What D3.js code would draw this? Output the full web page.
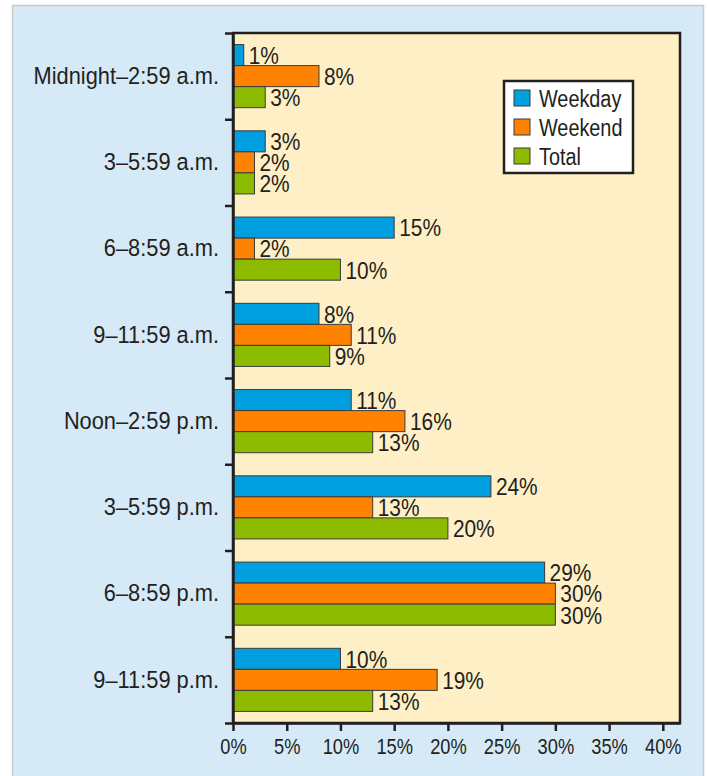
<!DOCTYPE html>
<html>
<head>
<meta charset="utf-8">
<script src="https://cdn.jsdelivr.net/npm/d3@7"></script>
<style>
  body { margin: 0; background: #fff; }
  text { font-family: "Liberation Sans", Arial, sans-serif; fill: #231f20; }
</style>
</head>
<body>
<div id="myChart"></div>
<script>
// data
const categories = ["Midnight\u20132:59 a.m.", "3\u20135:59 a.m.", "6\u20138:59 a.m.", "9\u201311:59 a.m.",
    "Noon\u20132:59 p.m.", "3\u20135:59 p.m.", "6\u20138:59 p.m.", "9\u201311:59 p.m."];
const seriesNames = ["Weekday", "Weekend", "Total"];
const weekday = [1, 3, 15, 8, 11, 24, 29, 10];
const weekend = [8, 2, 2, 11, 16, 13, 30, 19];
const total = [3, 2, 10, 9, 13, 20, 30, 13];
const xTicks = [0, 5, 10, 15, 20, 25, 30, 35, 40];

const colors = { "Weekday": "#00a0e0", "Weekend": "#ff8300", "Total": "#8cbb00" };
const values = { "Weekday": weekday, "Weekend": weekend, "Total": total };
const ink = "#231f20";

let W = 707, H = 776;
let plot = { left: 233, top: 33, right: 680, bottom: 723 };

// narrow the glyphs while keeping the anchor point where it was (fake condensed face)
function squeeze(sel, sx) {
    sel.each(function () {
        let t = d3.select(this);
        let x0 = +t.attr("x") || 0;
        t.attr("x", x0 / sx).attr("transform", "scale(" + sx + ",1)");
    });
}

let svg = d3.select('#myChart')
    .append('svg')
    .attr('width', W)
    .attr('height', H);

// outer light blue panel
svg.append("rect")
    .attr("x", 12.5).attr("y", 5.5)
    .attr("width", 691).attr("height", 790)
    .attr("fill", "#d6e9f7")
    .attr("stroke", "#c9c9c9")
    .attr("stroke-width", 1.5);

var x = d3.scaleLinear()
    .domain([0, 41.6])
    .range([plot.left, plot.right]);

var y = d3.scaleBand()
    .domain(categories)
    .range([plot.top, plot.bottom]);

var ySub = d3.scaleBand()
    .domain(seriesNames)
    .range([0, y.bandwidth()])
    .paddingOuter(0.55);

// plot background + frame
svg.append("rect")
    .attr("x", plot.left).attr("y", plot.top)
    .attr("width", plot.right - plot.left)
    .attr("height", plot.bottom - plot.top)
    .attr("fill", "#feefc6")
    .attr("stroke", ink)
    .attr("stroke-width", 2.5);

// bars
let rows = svg.append("g")
    .selectAll("g")
    .data(categories)
    .enter()
    .append("g")
    .attr("transform", function (d) { return "translate(0," + y(d) + ")"; });

function rowData(d, i) {
    return seriesNames.map(function (s) { return { s: s, v: values[s][i] }; });
}

rows.selectAll("rect")
    .data(rowData)
    .enter()
    .append("rect")
    .attr("x", x(0))
    .attr("y", function (d) { return ySub(d.s); })
    .attr("width", function (d) { return x(d.v) - x(0); })
    .attr("height", ySub.bandwidth())
    .attr("fill", function (d) { return colors[d.s]; })
    .attr("stroke", "#3b3b3b")
    .attr("stroke-width", 1);

rows.selectAll("text")
    .data(rowData)
    .enter()
    .append("text")
    .attr("x", function (d) { return x(d.v) + 5; })
    .attr("y", function (d) { return ySub(d.s) + ySub.bandwidth() / 2; })
    .attr("dy", "0.37em")
    .style("font-size", "24px")
    .text(function (d) { return d.v + "%"; })
    .call(squeeze, 0.87);

// left axis: ticks on the category boundaries
var yEdges = d3.scaleLinear().domain([0, categories.length]).range([plot.top, plot.bottom]);
svg.append("g")
    .attr("transform", "translate(" + plot.left + ",0)")
    .call(d3.axisLeft(yEdges).tickValues(d3.range(categories.length + 1)).tickFormat("").tickSize(8).tickSizeOuter(0))
    .call(function (g) {
        g.selectAll("line").attr("stroke", ink).attr("stroke-width", 2.5);
        g.select(".domain").attr("stroke", ink).attr("stroke-width", 2.5);
    });

// category labels
svg.append("g")
    .attr("transform", "translate(" + plot.left + ",0)")
    .call(d3.axisLeft(y).tickSize(0).tickPadding(14))
    .call(function (g) {
        g.select(".domain").remove();
        g.selectAll("text").style("font-size", "24.5px").attr("fill", ink)
            .style("font-family", null).call(squeeze, 0.89);
    });

// bottom axis
svg.append("g")
    .attr("transform", "translate(0," + plot.bottom + ")")
    .call(d3.axisBottom(x).tickValues(xTicks).tickSize(8).tickSizeOuter(0).tickPadding(8)
        .tickFormat(function (d) { return d + "%"; }))
    .call(function (g) {
        g.select(".domain").attr("stroke", ink).attr("stroke-width", 2.5);
        g.selectAll("line").attr("stroke", ink).attr("stroke-width", 2.5);
        g.selectAll("text").style("font-size", "21.5px").attr("fill", ink)
            .style("font-family", null).call(squeeze, 0.85);
    });

// legend
let legend = svg.append("g").attr("transform", "translate(504,81)");
legend.append("rect")
    .attr("width", 129).attr("height", 92)
    .attr("fill", "#fff")
    .attr("stroke", ink)
    .attr("stroke-width", 2.5);
let item = legend.selectAll(".item")
    .data(seriesNames)
    .enter()
    .append("g")
    .attr("transform", function (d, i) { return "translate(10," + (17 + i * 29) + ")"; });
item.append("rect")
    .attr("x", 0).attr("y", -8)
    .attr("width", 16).attr("height", 16)
    .attr("fill", function (d) { return colors[d]; })
    .attr("stroke", "#3b3b3b")
    .attr("stroke-width", 1);
item.append("text")
    .attr("x", 25)
    .attr("dy", "0.37em")
    .style("font-size", "24.5px")
    .text(function (d) { return d; })
    .call(squeeze, 0.81);
</script>
</body>
</html>
